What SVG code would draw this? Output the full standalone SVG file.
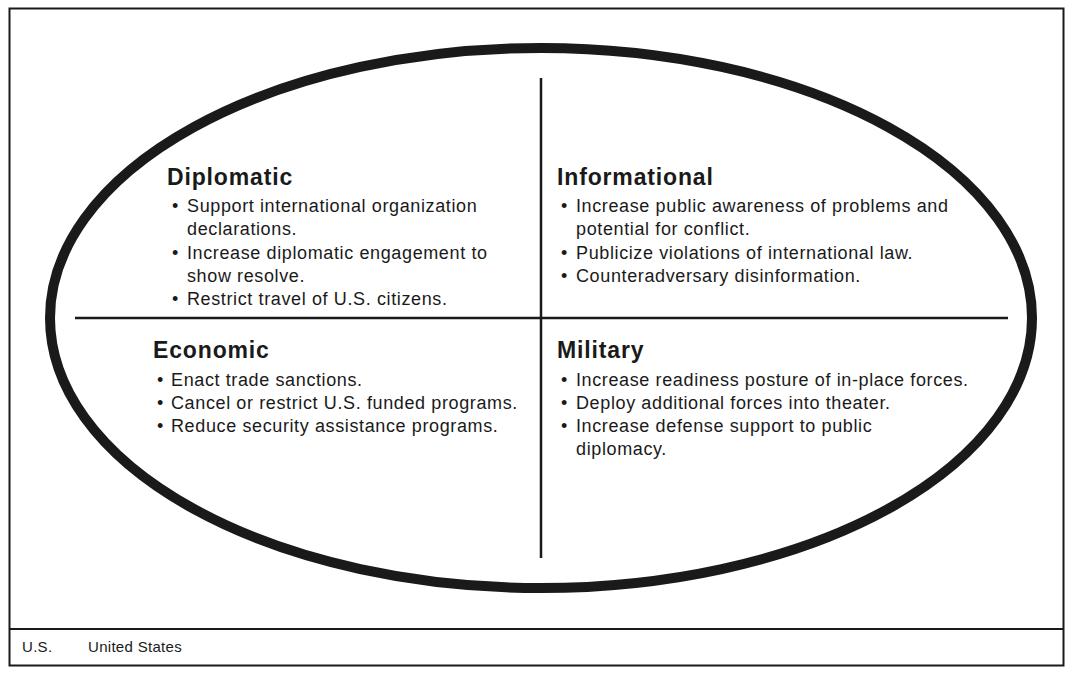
<svg xmlns="http://www.w3.org/2000/svg" width="1072" height="676" viewBox="0 0 1072 676">
<style>
text{font-family:"Liberation Sans",Arial,sans-serif;fill:#1a1a1a}
.h{font-size:23px;font-weight:bold;letter-spacing:0.85px}
.b{font-size:18px;letter-spacing:0.62px}
.f{font-size:15px;letter-spacing:0.3px}
.ln{stroke:#1a1a1a;fill:none}
</style>
<rect x="0" y="0" width="1072" height="676" fill="#fff"/>
<rect class="ln" x="9.5" y="8.5" width="1054" height="657" stroke-width="2"/>
<line class="ln" x1="9" y1="629" x2="1064" y2="629" stroke-width="2"/>
<g id="connectors">
<ellipse class="ln" cx="541" cy="318" rx="491" ry="270" stroke-width="10"/>
<line class="ln" x1="541" y1="78" x2="541" y2="558" stroke-width="2.5"/>
<line class="ln" x1="75" y1="318" x2="1008" y2="318" stroke-width="2.5"/>
</g>
<g id="diplomatic">
<text class="h" x="167" y="185">Diplomatic</text>
<text class="b" x="172" y="212">•</text><text class="b" x="187" y="212">Support international organization</text>
<text class="b" x="187" y="235">declarations.</text>
<text class="b" x="172" y="259">•</text><text class="b" x="187" y="259">Increase diplomatic engagement to</text>
<text class="b" x="187" y="282">show resolve.</text>
<text class="b" x="172" y="305">•</text><text class="b" x="187" y="305">Restrict travel of U.S. citizens.</text>
</g>
<g id="informational">
<text class="h" x="557" y="185">Informational</text>
<text class="b" x="561" y="212">•</text><text class="b" x="576" y="212">Increase public awareness of problems and</text>
<text class="b" x="576" y="235">potential for conflict.</text>
<text class="b" x="561" y="259">•</text><text class="b" x="576" y="259">Publicize violations of international law.</text>
<text class="b" x="561" y="282">•</text><text class="b" x="576" y="282">Counteradversary disinformation.</text>
</g>
<g id="economic">
<text class="h" x="153" y="358">Economic</text>
<text class="b" x="157" y="386">•</text><text class="b" x="171" y="386">Enact trade sanctions.</text>
<text class="b" x="157" y="409">•</text><text class="b" x="171" y="409">Cancel or restrict U.S. funded programs.</text>
<text class="b" x="157" y="432">•</text><text class="b" x="171" y="432">Reduce security assistance programs.</text>
</g>
<g id="military">
<text class="h" x="557" y="358">Military</text>
<text class="b" x="561" y="386">•</text><text class="b" x="576" y="386">Increase readiness posture of in-place forces.</text>
<text class="b" x="561" y="409">•</text><text class="b" x="576" y="409">Deploy additional forces into theater.</text>
<text class="b" x="561" y="432">•</text><text class="b" x="576" y="432">Increase defense support to public</text>
<text class="b" x="576" y="455">diplomacy.</text>
</g>
<g id="footer">
<text class="f" x="22" y="652">U.S.</text>
<text class="f" x="88" y="652">United States</text>
</g>
</svg>
